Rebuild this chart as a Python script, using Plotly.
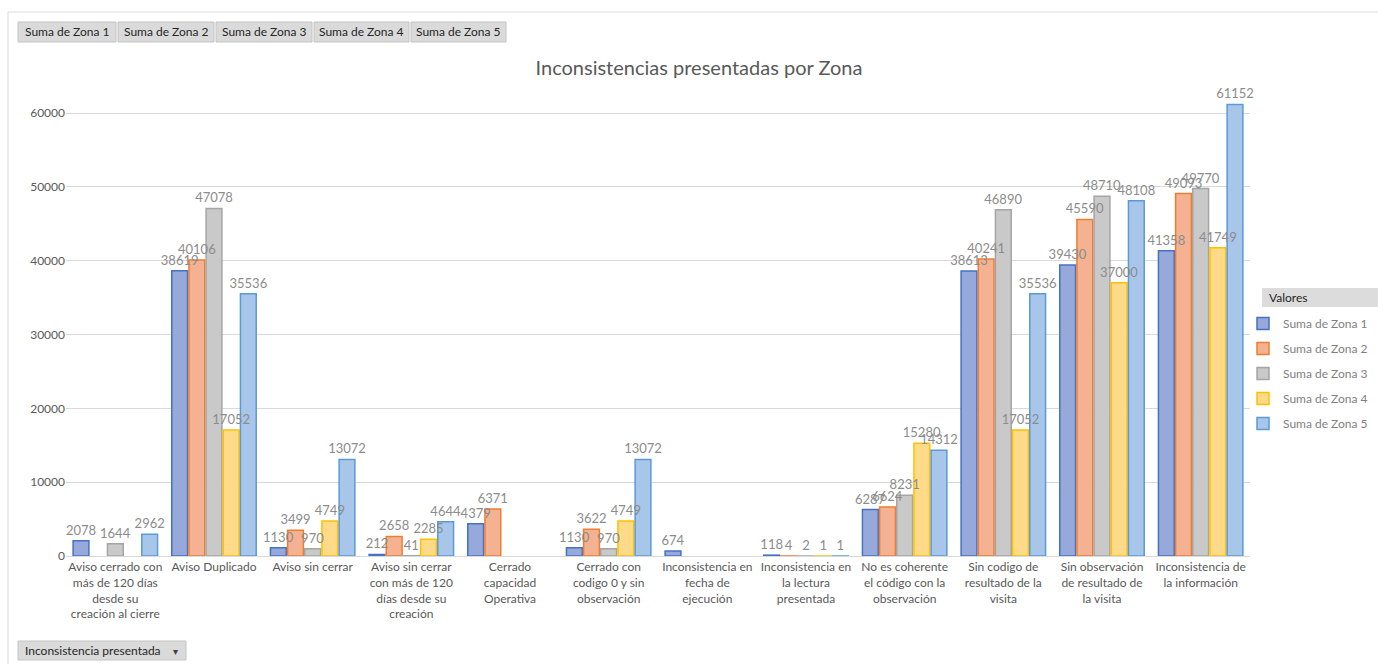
import plotly.graph_objects as go

categories = [
    "Aviso cerrado con más de 120 días desde su creación al cierre",
    "Aviso Duplicado",
    "Aviso sin cerrar",
    "Aviso sin cerrar con más de 120 días desde su creación",
    "Cerrado capacidad Operativa",
    "Cerrado con codigo 0 y sin observación",
    "Inconsistencia en fecha de ejecución",
    "Inconsistencia en la lectura presentada",
    "No es coherente el código con la observación",
    "Sin codigo de resultado de la visita",
    "Sin observación de resultado de la visita",
    "Inconsistencia de la información",
]
tick_labels = [
    "Aviso cerrado con<br>más de 120 días<br>desde su<br>creación al cierre",
    "Aviso Duplicado",
    "Aviso sin cerrar",
    "Aviso sin cerrar<br>con más de 120<br>días desde su<br>creación",
    "Cerrado<br>capacidad<br>Operativa",
    "Cerrado con<br>codigo 0 y sin<br>observación",
    "Inconsistencia en<br>fecha de<br>ejecución",
    "Inconsistencia en<br>la lectura<br>presentada",
    "No es coherente<br>el código con la<br>observación",
    "Sin codigo de<br>resultado de la<br>visita",
    "Sin observación<br>de resultado de<br>la visita",
    "Inconsistencia de<br>la información",
]
zona1 = [2078, 38619, 1130, 212, 4379, 1130, 674, 118, 6287, 38613, 39430, 41358]
zona2 = [None, 40106, 3499, 2658, 6371, 3622, None, 4, 6624, 40241, 45590, 49093]
zona3 = [1644, 47078, 970, 41, None, 970, None, 2, 8231, 46890, 48710, 49770]
zona4 = [None, 17052, 4749, 2285, None, 4749, None, 1, 15280, 17052, 37000, 41749]
zona5 = [2962, 35536, 13072, 4644, None, 13072, None, 1, 14312, 35536, 48108, 61152]
series_names = ["Suma de Zona 1", "Suma de Zona 2", "Suma de Zona 3", "Suma de Zona 4", "Suma de Zona 5"]
y_ticks = [0, 10000, 20000, 30000, 40000, 50000, 60000]

fills = ["#97A9DA", "#F5B293", "#C9C9C9", "#FFDA88", "#A8C5EA"]
borders = ["#4472C4", "#ED7D31", "#A5A5A5", "#FFC000", "#5B9BD5"]

W, H = 1378, 664
L, R, T, B = 66, 1250, 80, 556
FONT = "Lato"

def px(x):
    return (x - L) / (R - L)

def py(y):
    return (B - y) / (B - T)

ymax = (B - T) / ((B - 113) / 60000)

fig = go.Figure()
all_vals = [zona1, zona2, zona3, zona4, zona5]
for name, vals, fc, bc in zip(series_names, all_vals, fills, borders):
    fig.add_trace(go.Bar(
        x=categories, y=vals, name=name, legendgroup=name,
        marker=dict(color=fc, line=dict(color=bc, width=1.5)),
        hoverinfo="x+y+name",
    ))
# label layer drawn above all bars (overlaying axes)
for name, vals in zip(series_names, all_vals):
    fig.add_trace(go.Bar(
        x=categories, y=vals, name=name, showlegend=False, xaxis="x2", yaxis="y2",
        marker=dict(color="rgba(0,0,0,0)", line=dict(width=0)),
        text=[("" if v is None else str(v)) for v in vals],
        textposition="outside", constraintext="none", cliponaxis=False,
        textfont=dict(family=FONT, size=13, color="#8C8C8C"),
        hoverinfo="skip",
    ))

shapes = []
annotations = []
shapes.append(dict(type="rect", xref="paper", yref="paper", x0=px(8), x1=px(1390), y0=py(12), y1=py(680),
                   line=dict(color="#D9D9D9", width=1), layer="below"))
btns = [(18, 116), (118, 214), (216, 312), (314, 409), (411, 506)]
for (x0, x1), name in zip(btns, series_names):
    shapes.append(dict(type="rect", xref="paper", yref="paper", x0=px(x0), x1=px(x1), y0=py(22), y1=py(42),
                       fillcolor="#DADADA", line=dict(color="#C4C4C4", width=1)))
    annotations.append(dict(xref="paper", yref="paper", x=px((x0 + x1) / 2), y=py(32), text=name, showarrow=False,
                            font=dict(family=FONT, size=12, color="#262626"), xanchor="center", yanchor="middle"))
shapes.append(dict(type="rect", xref="paper", yref="paper", x0=px(18), x1=px(186), y0=py(641), y1=py(660),
                   fillcolor="#DADADA", line=dict(color="#C4C4C4", width=1)))
annotations.append(dict(xref="paper", yref="paper", x=px(23), y=py(650.5), text="Inconsistencia presentada",
                        showarrow=False, font=dict(family=FONT, size=12, color="#262626"),
                        xanchor="left", yanchor="middle"))
annotations.append(dict(xref="paper", yref="paper", x=px(175), y=py(650.5), text="▾",
                        showarrow=False, font=dict(family=FONT, size=10, color="#404040"),
                        xanchor="center", yanchor="middle"))
shapes.append(dict(type="rect", xref="paper", yref="paper", x0=px(1262), x1=px(1378), y0=py(288), y1=py(307),
                   fillcolor="#DCDCDC", line=dict(width=0)))
annotations.append(dict(xref="paper", yref="paper", x=px(1267), y=py(297.5), text="Valores", showarrow=False,
                        font=dict(family=FONT, size=12, color="#262626"), xanchor="left", yanchor="middle"))

fig.update_layout(
    width=W, height=H,
    margin=dict(l=L, r=W - R, t=T, b=H - B, autoexpand=False),
    paper_bgcolor="white", plot_bgcolor="white",
    barmode="group", bargap=0.13, bargroupgap=0.08,
    title=dict(text="Inconsistencias presentadas por Zona", x=699 / W, xanchor="center",
               y=1 - 68 / H, yanchor="middle", font=dict(family=FONT, size=20, color="#595959")),
    xaxis=dict(tickmode="array", tickvals=categories, ticktext=tick_labels,
               tickfont=dict(family=FONT, size=12, color="#595959"), tickangle=0,
               showline=True, linecolor="#D9D9D9", linewidth=1, ticks="", showgrid=False),
    yaxis=dict(range=[0, ymax], tickvals=y_ticks, tickformat="d",
               tickfont=dict(family=FONT, size=12, color="#595959"),
               showgrid=True, gridcolor="#D9D9D9", gridwidth=1, zeroline=False, showline=False, ticks=""),
    xaxis2=dict(overlaying="x", matches="x", visible=False, showgrid=False),
    yaxis2=dict(overlaying="y", range=[0, ymax], visible=False, showgrid=False),
    legend=dict(xref="container", yref="container", x=1243 / W, y=1 - 309 / H, xanchor="left", yanchor="top",
                font=dict(family=FONT, size=12, color="#7F7F7F"), tracegroupgap=6, bgcolor="rgba(0,0,0,0)",
                itemclick=False),
    shapes=shapes, annotations=annotations,
)

fig.write_html("out.html")
